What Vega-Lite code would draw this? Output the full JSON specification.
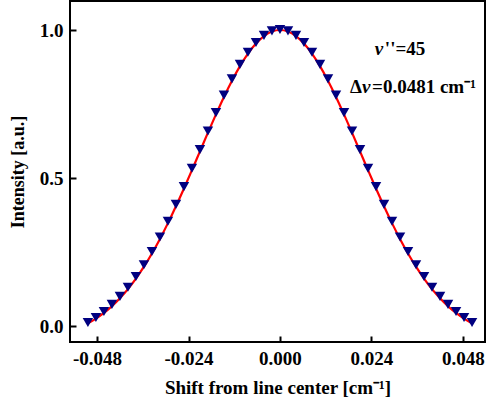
{
  "$schema": "https://vega.github.io/schema/vega-lite/v6.json",
  "autosize": "none",
  "width": 415,
  "height": 341,
  "padding": {"left": 70, "top": 1, "right": 4, "bottom": 63},
  "background": "white",
  "config": {
    "view": {"stroke": "black", "strokeWidth": 2},
    "axis": {
      "labelFont": "Liberation Serif",
      "labelFontWeight": "bold",
      "labelFontSize": 19,
      "labelColor": "black",
      "titleFont": "Liberation Serif",
      "titleFontWeight": "bold",
      "titleColor": "black",
      "grid": false,
      "domain": false,
      "tickColor": "black",
      "tickWidth": 2,
      "tickSize": -6
    },
    "text": {"font": "Liberation Serif", "fontWeight": "bold", "fontSize": 19, "color": "black", "align": "left", "baseline": "middle"}
  },
  "datasets": {
    "fit": [
      {"x": -0.0504, "y": 0.0088}, {"x": -0.0483, "y": 0.0248}, {"x": -0.0462, "y": 0.0440}, {"x": -0.0441, "y": 0.0669},
      {"x": -0.0420, "y": 0.0937}, {"x": -0.0399, "y": 0.1247}, {"x": -0.0378, "y": 0.1602}, {"x": -0.0357, "y": 0.2004},
      {"x": -0.0336, "y": 0.2451}, {"x": -0.0315, "y": 0.2943}, {"x": -0.0294, "y": 0.3476}, {"x": -0.0273, "y": 0.4047},
      {"x": -0.0252, "y": 0.4647}, {"x": -0.0231, "y": 0.5268}, {"x": -0.0210, "y": 0.5901}, {"x": -0.0189, "y": 0.6532},
      {"x": -0.0168, "y": 0.7150}, {"x": -0.0147, "y": 0.7740}, {"x": -0.0126, "y": 0.8287}, {"x": -0.0105, "y": 0.8779},
      {"x": -0.0084, "y": 0.9201}, {"x": -0.0063, "y": 0.9543}, {"x": -0.0042, "y": 0.9794}, {"x": -0.0021, "y": 0.9948},
      {"x": 0.0, "y": 1.0},
      {"x": 0.0021, "y": 0.9948}, {"x": 0.0042, "y": 0.9794}, {"x": 0.0063, "y": 0.9543}, {"x": 0.0084, "y": 0.9201},
      {"x": 0.0105, "y": 0.8779}, {"x": 0.0126, "y": 0.8287}, {"x": 0.0147, "y": 0.7740}, {"x": 0.0168, "y": 0.7150},
      {"x": 0.0189, "y": 0.6532}, {"x": 0.0210, "y": 0.5901}, {"x": 0.0231, "y": 0.5268}, {"x": 0.0252, "y": 0.4647},
      {"x": 0.0273, "y": 0.4047}, {"x": 0.0294, "y": 0.3476}, {"x": 0.0315, "y": 0.2943}, {"x": 0.0336, "y": 0.2451},
      {"x": 0.0357, "y": 0.2004}, {"x": 0.0378, "y": 0.1602}, {"x": 0.0399, "y": 0.1247}, {"x": 0.0420, "y": 0.0937},
      {"x": 0.0441, "y": 0.0669}, {"x": 0.0462, "y": 0.0440}, {"x": 0.0483, "y": 0.0248}, {"x": 0.0504, "y": 0.0088}
    ],
    "obs": [
      {"x": -0.0504, "y": 0.012}, {"x": -0.0483, "y": 0.029}, {"x": -0.0462, "y": 0.049}, {"x": -0.0441, "y": 0.073},
      {"x": -0.0420, "y": 0.100}, {"x": -0.0399, "y": 0.131}, {"x": -0.0378, "y": 0.167}, {"x": -0.0357, "y": 0.207},
      {"x": -0.0336, "y": 0.252}, {"x": -0.0315, "y": 0.301}, {"x": -0.0294, "y": 0.354}, {"x": -0.0273, "y": 0.411},
      {"x": -0.0252, "y": 0.471}, {"x": -0.0231, "y": 0.533}, {"x": -0.0210, "y": 0.596}, {"x": -0.0189, "y": 0.659},
      {"x": -0.0168, "y": 0.721}, {"x": -0.0147, "y": 0.780}, {"x": -0.0126, "y": 0.835}, {"x": -0.0105, "y": 0.884},
      {"x": -0.0084, "y": 0.925}, {"x": -0.0063, "y": 0.958}, {"x": -0.0042, "y": 0.982}, {"x": -0.0021, "y": 0.997},
      {"x": 0.0, "y": 1.002},
      {"x": 0.0021, "y": 0.997}, {"x": 0.0042, "y": 0.982}, {"x": 0.0063, "y": 0.958}, {"x": 0.0084, "y": 0.925},
      {"x": 0.0105, "y": 0.884}, {"x": 0.0126, "y": 0.835}, {"x": 0.0147, "y": 0.780}, {"x": 0.0168, "y": 0.721},
      {"x": 0.0189, "y": 0.659}, {"x": 0.0210, "y": 0.596}, {"x": 0.0231, "y": 0.533}, {"x": 0.0252, "y": 0.471},
      {"x": 0.0273, "y": 0.411}, {"x": 0.0294, "y": 0.354}, {"x": 0.0315, "y": 0.301}, {"x": 0.0336, "y": 0.252},
      {"x": 0.0357, "y": 0.207}, {"x": 0.0378, "y": 0.167}, {"x": 0.0399, "y": 0.131}, {"x": 0.0420, "y": 0.100},
      {"x": 0.0441, "y": 0.073}, {"x": 0.0462, "y": 0.049}, {"x": 0.0483, "y": 0.029}, {"x": 0.0504, "y": 0.012}
    ],
    "notes": [
      {"x": 0.0249, "y": 0.936, "part": "a1", "label": "ν"},
      {"x": 0.0249, "y": 0.936, "part": "a2", "label": "''=45"},
      {"x": 0.0184, "y": 0.808, "part": "b1", "label": "Δ"},
      {"x": 0.0184, "y": 0.808, "part": "b2", "label": "ν"},
      {"x": 0.0184, "y": 0.808, "part": "b3", "label": "=0.0481 cm⁻¹"}
    ]
  },
  "layer": [
    {
      "data": {"name": "fit"},
      "mark": {"type": "line", "color": "#ff0000", "strokeWidth": 2.2, "interpolate": "monotone", "clip": true},
      "encoding": {
        "x": {
          "field": "x", "type": "quantitative",
          "scale": {"domain": [-0.0551, 0.0538], "nice": false, "zero": false},
          "axis": {
            "values": [-0.048, -0.024, 0, 0.024, 0.048],
            "labelExpr": "replace(format(datum.value, '.3f'), '−', '-')",
            "labelPadding": 13,
            "title": "Shift from line center [cm⁻¹]",
            "titleFontSize": 19,
            "titlePadding": 10
          }
        },
        "y": {
          "field": "y", "type": "quantitative",
          "scale": {"domain": [-0.054, 1.098], "nice": false, "zero": false},
          "axis": {
            "values": [0, 0.5, 1],
            "format": ".1f",
            "labelPadding": 13,
            "title": "Intensity [a.u.]",
            "titleFontSize": 18,
            "titlePadding": 12
          }
        }
      }
    },
    {
      "data": {"name": "obs"},
      "mark": {"type": "point", "shape": "triangle-down", "filled": true, "color": "#000080", "opacity": 1, "size": 110},
      "encoding": {
        "x": {"field": "x", "type": "quantitative"},
        "y": {"field": "y", "type": "quantitative"}
      }
    },
    {
      "data": {"name": "notes"},
      "transform": [{"filter": "datum.part === 'a1'"}],
      "mark": {"type": "text", "fontStyle": "italic"},
      "encoding": {"x": {"field": "x", "type": "quantitative"}, "y": {"field": "y", "type": "quantitative"}, "text": {"field": "label"}}
    },
    {
      "data": {"name": "notes"},
      "transform": [{"filter": "datum.part === 'a2'"}],
      "mark": {"type": "text", "dx": 10},
      "encoding": {"x": {"field": "x", "type": "quantitative"}, "y": {"field": "y", "type": "quantitative"}, "text": {"field": "label"}}
    },
    {
      "data": {"name": "notes"},
      "transform": [{"filter": "datum.part === 'b1'"}],
      "mark": {"type": "text"},
      "encoding": {"x": {"field": "x", "type": "quantitative"}, "y": {"field": "y", "type": "quantitative"}, "text": {"field": "label"}}
    },
    {
      "data": {"name": "notes"},
      "transform": [{"filter": "datum.part === 'b2'"}],
      "mark": {"type": "text", "fontStyle": "italic", "dx": 12},
      "encoding": {"x": {"field": "x", "type": "quantitative"}, "y": {"field": "y", "type": "quantitative"}, "text": {"field": "label"}}
    },
    {
      "data": {"name": "notes"},
      "transform": [{"filter": "datum.part === 'b3'"}],
      "mark": {"type": "text", "dx": 22},
      "encoding": {"x": {"field": "x", "type": "quantitative"}, "y": {"field": "y", "type": "quantitative"}, "text": {"field": "label"}}
    }
  ]
}
